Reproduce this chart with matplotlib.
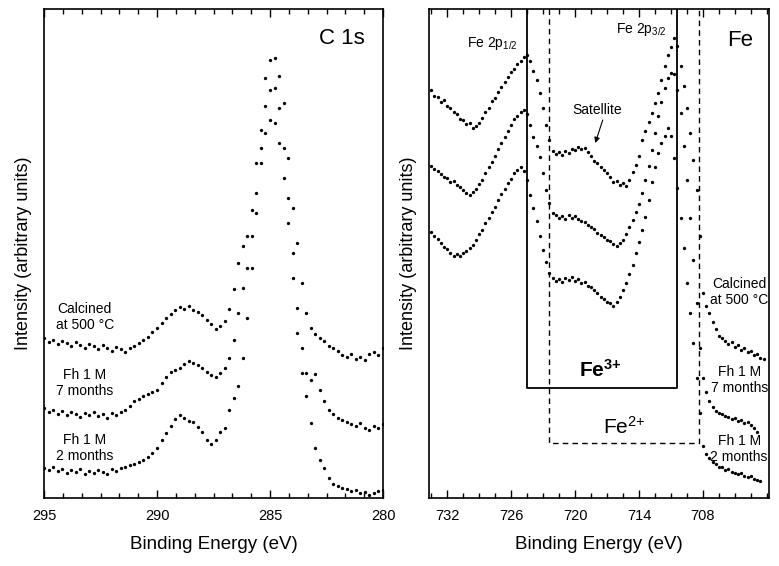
import numpy as np
import matplotlib
matplotlib.use("Agg")
import matplotlib.pyplot as plt
from matplotlib.ticker import MultipleLocator, AutoMinorLocator, FixedLocator

plt.rcParams['font.family'] = ['Liberation Sans', 'DejaVu Sans']
plt.rcParams['mathtext.fontset'] = 'custom'
plt.rcParams['mathtext.rm'] = 'Liberation Sans'
plt.rcParams['mathtext.it'] = 'Liberation Sans:italic'
plt.rcParams['mathtext.bf'] = 'Liberation Sans:bold'

# ---------------- C 1s data (binding energy grid, eV) ----------------
c1s_energy = np.round(np.arange(295.0, 279.99, -0.2), 1)

c1s_calcined = [160, 156, 158, 154, 157, 155, 152, 156, 153, 150,
                154, 152, 149, 153, 150, 147, 151, 149, 146, 150,
                152, 155, 158, 161, 166, 170, 175, 180, 184, 188,
                191, 189, 192, 188, 186, 183, 178, 174, 169, 172,
                177, 189, 209, 235, 252, 262, 288, 335, 368, 420,
                438, 440, 422, 395, 340, 290, 255, 215, 185, 170,
                164, 160, 157, 152, 150, 147, 143, 141, 144, 139,
                141, 138, 144, 146, 143, 150]

c1s_7months = [90, 86, 88, 84, 87, 83, 86, 84, 81, 85,
               83, 86, 82, 84, 80, 85, 83, 86, 88, 92,
               97, 99, 102, 104, 106, 108, 115, 121, 126, 128,
               130, 134, 137, 135, 133, 130, 126, 123, 121, 125,
               130, 140, 158, 185, 210, 230, 262, 305, 350, 392,
               408, 410, 390, 350, 300, 245, 190, 150, 125, 118,
               124, 108, 97, 88, 84, 80, 78, 76, 74, 72,
               75, 70, 68, 72, 70, 74]

c1s_2months = [30, 28, 31, 27, 29, 25, 28, 26, 29, 24,
               27, 25, 28, 26, 24, 29, 27, 30, 31, 33,
               34, 36, 38, 41, 45, 50, 58, 65, 72, 79,
               83, 80, 77, 76, 71, 66, 58, 54, 58, 66,
               70, 88, 100, 112, 140, 180, 230, 285, 335, 365,
               378, 375, 355, 320, 275, 220, 165, 125, 102, 75,
               50, 38, 30, 20, 14, 12, 10, 9, 7, 8,
               5, 6, 3, 5, 7, 8]

# ---------------- Fe 2p data ----------------
fe_energy = np.round(733.5 - 0.3 * np.arange(105), 1)

fe_calcined = [408, 402, 401, 396, 398, 392, 390, 386, 384, 379,
               378, 374, 375, 370, 372, 375, 380, 386, 390, 397,
               400, 406, 411, 416, 421, 426, 429, 434, 437, 441,
               443, 437, 427, 418, 405, 390, 373, 358, 347, 344,
               346, 343, 347, 345, 349, 348, 351, 349, 350, 346,
               342, 337, 335, 331, 328, 325, 321, 316, 317, 313,
               315, 312, 318, 326, 333, 342, 358, 367, 376, 385,
               395, 405, 418, 432, 443, 451, 460, 452, 432, 412,
               390, 365, 338, 308, 262, 205, 192, 185, 176, 169,
               162, 160, 157, 154, 156, 151, 153, 148, 150, 146,
               147, 143, 144, 140, 139]

fe_7months = [332, 329, 327, 324, 321, 320, 316, 317, 313, 311,
              308, 305, 303, 306, 309, 314, 318, 325, 331, 336,
              342, 349, 355, 361, 367, 373, 379, 382, 386, 388,
              384, 373, 361, 352, 341, 325, 308, 295, 285, 283,
              280, 282, 279, 283, 280, 282, 279, 277, 276, 273,
              271, 269, 265, 263, 261, 258, 257, 254, 252, 255,
              258, 264, 271, 278, 286, 294, 305, 318, 332, 348,
              365, 382, 396, 410, 420, 425, 424, 408, 385, 352,
              318, 280, 238, 195, 150, 120, 106, 97, 91, 87,
              85, 84, 82, 81, 79, 80, 77, 78, 75, 76,
              73, 70, 66]

fe_2months = [266, 262, 259, 255, 251, 249, 245, 242, 244, 242,
              245, 247, 250, 253, 258, 264, 268, 275, 280, 286,
              291, 298, 304, 309, 315, 319, 325, 328, 331, 327,
              318, 303, 290, 277, 262, 248, 236, 225, 220, 217,
              219, 216, 220, 218, 221, 217, 219, 215, 216, 212,
              211, 208, 205, 201, 199, 196, 195, 192, 196, 201,
              208, 215, 224, 233, 245, 256, 268, 281, 298, 316,
              331, 345, 355, 362, 370, 362, 340, 310, 280, 250,
              215, 185, 155, 120, 85, 52, 44, 40, 36, 34,
              31, 31, 28, 29, 26, 25, 24, 25, 22, 21,
              22, 19, 18, 17]

c1s_ticks = [295, 290, 285, 280]
fe_ticks = [732, 726, 720, 714, 708]

# annotation box limits (eV, intensity)
fe3_box = (724.48, 710.45, 110)
fe2_box = (722.42, 708.38, 55)

YMAX = 489

fig = plt.figure(figsize=(7.79, 5.66), dpi=100)
ax1 = fig.add_axes([44/779, 68/566, 339/779, 489/566])
ax2 = fig.add_axes([429/779, 68/566, 340/779, 489/566])

dot = dict(linestyle='none', marker='o', markersize=2.4, color='black',
           markeredgewidth=0)

for y in (c1s_calcined, c1s_7months, c1s_2months):
    ax1.plot(c1s_energy, y, **dot)

ax2.plot(fe_energy[:len(fe_calcined)], fe_calcined, **dot)
ax2.plot(fe_energy[:len(fe_7months)], fe_7months, **dot)
ax2.plot(fe_energy[:len(fe_2months)], fe_2months, **dot)

ax1.set_xlim(295, 280)
ax2.set_xlim(733.7, 701.8)
for ax in (ax1, ax2):
    ax.set_ylim(0, YMAX)
    ax.set_yticks([])
    for s in ax.spines.values():
        s.set_linewidth(1.2)
    ax.tick_params(axis='x', which='both', direction='in', top=True,
                   bottom=True, labelsize=10.5, pad=8, width=1.0)
    ax.tick_params(axis='x', which='major', length=6)
    ax.tick_params(axis='x', which='minor', length=3.5)
    ax.set_xlabel('Binding Energy (eV)', fontsize=13.5)
    ax.xaxis.set_label_coords(0.5, -0.078)
    ax.set_ylabel('Intensity (arbitrary units)', fontsize=13)
    ax.yaxis.set_label_coords(-0.035, 0.5)

ax1.xaxis.set_major_locator(FixedLocator(c1s_ticks))
ax1.xaxis.set_minor_locator(MultipleLocator(5 / 6))
ax2.xaxis.set_major_locator(FixedLocator(fe_ticks))
ax2.xaxis.set_minor_locator(MultipleLocator(1.5))

# ---- C 1s labels ----
lab = dict(fontsize=10, ha='center', va='center', linespacing=1.25)
ax1.text(293.2, 181, 'Calcined\nat 500 °C', **lab)
ax1.text(293.2, 115, 'Fh 1 M\n7 months', **lab)
ax1.text(293.2, 50, 'Fh 1 M\n2 months', **lab)
ax1.text(281.8, 459, 'C 1s', fontsize=16, ha='center', va='center')

# ---- Fe labels ----
ax2.text(704.6, 206, 'Calcined\nat 500 °C', **lab)
ax2.text(704.6, 118, 'Fh 1 M\n7 months', **lab)
ax2.text(704.6, 49, 'Fh 1 M\n2 months', **lab)
ax2.text(704.5, 458, 'Fe', fontsize=16, ha='center', va='center')
ax2.text(727.8, 455, r'Fe 2p$_{\mathregular{1/2}}$', fontsize=10,
         ha='center', va='center')
ax2.text(713.8, 468, r'Fe 2p$_{\mathregular{3/2}}$', fontsize=10,
         ha='center', va='center')
ax2.text(717.9, 388, 'Satellite', fontsize=10, ha='center', va='center')
ax2.annotate('', xy=(718.1, 355), xytext=(717.4, 378),
             arrowprops=dict(arrowstyle='-|>', color='black', lw=0.8,
                             mutation_scale=8, shrinkA=0, shrinkB=0))

# boxes
l, r, b = fe3_box
ax2.plot([l, l, r, r], [YMAX, b, b, YMAX], color='black', lw=1.3)
l, r, b = fe2_box
ax2.plot([l, l, r, r], [YMAX, b, b, YMAX], color='black', lw=1.0,
         linestyle=(0, (4, 3)))
ax2.text(717.6, 128, r'$\mathbf{Fe}^{\mathbf{3{+}}}$', fontsize=15,
         ha='center', va='center')
ax2.text(715.4, 71, r'Fe$^{\mathregular{2{+}}}$', fontsize=15,
         ha='center', va='center')

fig.savefig('out.png', dpi=100)
